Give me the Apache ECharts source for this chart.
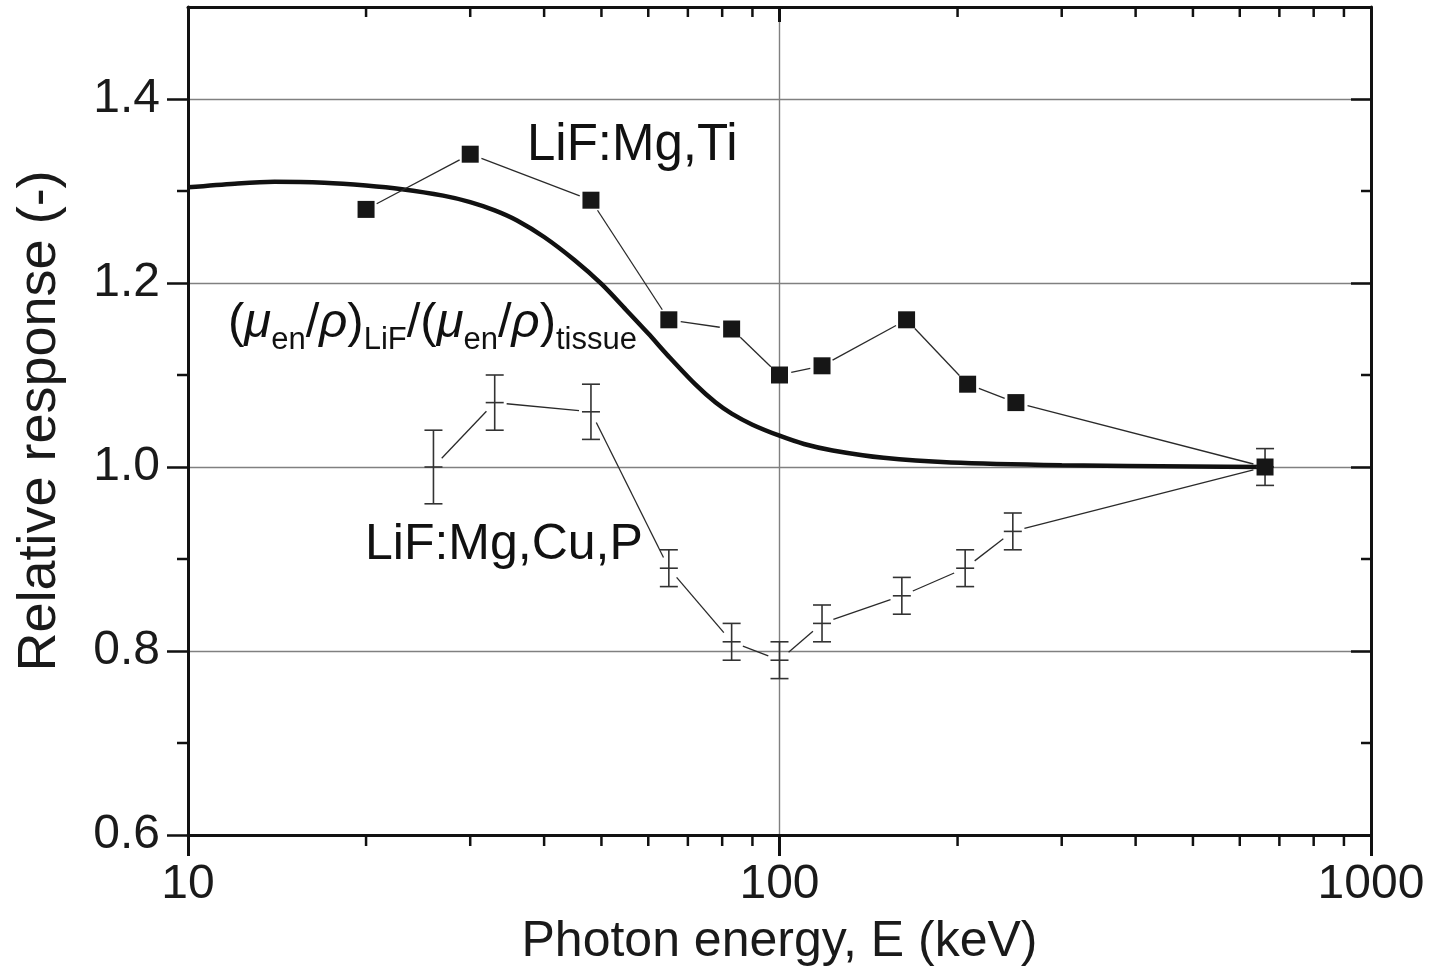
<!DOCTYPE html>
<html>
<head>
<meta charset="utf-8">
<title>Relative response vs photon energy</title>
<script src="https://cdn.jsdelivr.net/npm/echarts@6.0.0/dist/echarts.min.js"></script>
<style>
    html, body { margin: 0; padding: 0; background: #fff; }
    #mychart { width: 1435px; height: 978px; }
</style>
</head>
<body>
<div id="mychart"></div>
<script>
"use strict";
// LiF:Mg,Ti (filled squares)
const tiEnergy = [20, 30, 48, 65, 83, 100, 118, 164, 208, 251, 662];
const tiResponse = [1.28, 1.34, 1.29, 1.16, 1.15, 1.10, 1.11, 1.16, 1.09, 1.07, 1.00];
// LiF:Mg,Cu,P (error bars)
const cuEnergy = [26, 33, 48, 65, 83, 100, 118, 161, 206, 248, 662];
const cuResponse = [1.00, 1.07, 1.06, 0.89, 0.81, 0.79, 0.83, 0.86, 0.89, 0.93, 1.00];
const cuError = [0.04, 0.03, 0.03, 0.02, 0.02, 0.02, 0.02, 0.02, 0.02, 0.02, 0.02];
// (mu_en/rho)LiF / (mu_en/rho)tissue
const ratioEnergy = [10, 12, 14, 17, 20, 23, 27, 30, 33, 36, 40, 45, 50, 55, 60, 65, 72, 78, 83, 90, 100, 110, 123, 150, 195, 300, 500, 662];
const ratioValue = [1.304, 1.308, 1.310, 1.309, 1.306, 1.302, 1.295, 1.288, 1.279, 1.268, 1.250, 1.225, 1.199, 1.171, 1.145, 1.120, 1.090, 1.070, 1.058, 1.046, 1.034, 1.025, 1.018, 1.010, 1.005, 1.002, 1.0005, 1.000];
// axes
const xMin = 10, xMax = 1000;
const yMin = 0.6, yMax = 1.5;
const minorTickE = [20, 30, 40, 50, 60, 70, 80, 90, 200, 300, 400, 500, 600, 700, 800, 900];
const minorTickY = [0.7, 0.9, 1.1, 1.3];

const FONT = '"Liberation Sans", Arial, Helvetica, sans-serif';
const INK = '#111';

const container = document.getElementById('mychart');
const myChart = echarts.init(container);

function toSegments(xs, ys) {
    let segs = [];
    for (let i = 0; i < xs.length - 1; i++) {
        segs.push([xs[i], ys[i], xs[i + 1], ys[i + 1]]);
    }
    return segs;
}

// thin connecting line, stopped short of each marker
function renderSegment(params, api) {
    const p1 = api.coord([api.value(0), api.value(1)]);
    const p2 = api.coord([api.value(2), api.value(3)]);
    const dx = p2[0] - p1[0], dy = p2[1] - p1[1];
    const len = Math.sqrt(dx * dx + dy * dy);
    const gap = 12;
    if (len <= gap * 2) {
        return null;
    }
    const ux = dx / len, uy = dy / len;
    return {
        type: 'line',
        shape: {
            x1: p1[0] + ux * gap, y1: p1[1] + uy * gap,
            x2: p2[0] - ux * gap, y2: p2[1] - uy * gap
        },
        style: { stroke: '#2a2a2a', lineWidth: 1.3 }
    };
}

function renderErrorBar(params, api) {
    const x = api.value(0), y = api.value(1), e = api.value(2);
    const c = api.coord([x, y]);
    const hi = api.coord([x, y + e]);
    const lo = api.coord([x, y - e]);
    const w = 9;
    const style = { stroke: '#333', lineWidth: 1.6 };
    return {
        type: 'group',
        children: [
            { type: 'line', shape: { x1: c[0], y1: hi[1], x2: c[0], y2: lo[1] }, style },
            { type: 'line', shape: { x1: c[0] - w, y1: hi[1], x2: c[0] + w, y2: hi[1] }, style },
            { type: 'line', shape: { x1: c[0] - w, y1: lo[1], x2: c[0] + w, y2: lo[1] }, style },
            { type: 'line', shape: { x1: c[0] - w, y1: c[1], x2: c[0] + w, y2: c[1] }, style }
        ]
    };
}

// minor ticks: outward on bottom/left, inward on top/right
function renderMinorX(params, api) {
    const b = api.coord([api.value(0), yMin]);
    const t = api.coord([api.value(0), yMax]);
    const style = { stroke: INK, lineWidth: 2.5 };
    return {
        type: 'group',
        children: [
            { type: 'line', shape: { x1: b[0], y1: b[1], x2: b[0], y2: b[1] + 11 }, style },
            { type: 'line', shape: { x1: t[0], y1: t[1], x2: t[0], y2: t[1] + 10 }, style }
        ]
    };
}

function renderMinorY(params, api) {
    const l = api.coord([xMin, api.value(1)]);
    const r = api.coord([xMax, api.value(1)]);
    const style = { stroke: INK, lineWidth: 2.5 };
    return {
        type: 'group',
        children: [
            { type: 'line', shape: { x1: l[0], y1: l[1], x2: l[0] - 11, y2: l[1] }, style },
            { type: 'line', shape: { x1: r[0], y1: r[1], x2: r[0] - 10, y2: r[1] }, style }
        ]
    };
}

const labelText = { fontFamily: FONT, fontSize: 48, color: '#1a1a1a' };
const ratioRich = {
    p: { fontFamily: FONT, fontSize: 49, lineHeight: 64, verticalAlign: 'middle', fill: INK },
    g: { fontFamily: FONT, fontSize: 49, lineHeight: 64, verticalAlign: 'middle', fontStyle: 'italic', fill: INK },
    s: { fontFamily: FONT, fontSize: 31, lineHeight: 30, verticalAlign: 'bottom', fill: INK }
};

const option = {
    animation: false,
    backgroundColor: '#fff',
    grid: { left: 188, right: 64, top: 7, bottom: 143 },
    xAxis: [
        {
            type: 'log',
            logBase: 10,
            min: xMin,
            max: xMax,
            position: 'bottom',
            name: 'Photon energy, E (keV)',
            nameLocation: 'middle',
            nameGap: 82,
            nameTextStyle: { fontFamily: FONT, fontSize: 50, color: '#1a1a1a' },
            axisLine: { lineStyle: { color: INK, width: 3 } },
            axisTick: { inside: false, length: 21, lineStyle: { color: INK, width: 3 } },
            axisLabel: Object.assign({ margin: 26, formatter: v => String(Math.round(v)) }, labelText),
            splitLine: { show: true, lineStyle: { color: '#808080', width: 1.4 } },
            minorTick: { show: false },
            minorSplitLine: { show: false }
        },
        {
            type: 'log',
            logBase: 10,
            min: xMin,
            max: xMax,
            position: 'top',
            axisLine: { lineStyle: { color: INK, width: 3 } },
            axisTick: { inside: true, length: 15, lineStyle: { color: INK, width: 3 } },
            axisLabel: { show: false },
            splitLine: { show: false }
        }
    ],
    yAxis: [
        {
            type: 'value',
            min: yMin,
            max: yMax,
            interval: 0.2,
            position: 'left',
            name: 'Relative response (-)',
            nameLocation: 'middle',
            nameGap: 121,
            nameRotate: 90,
            nameTextStyle: { fontFamily: FONT, fontSize: 54, color: '#1a1a1a' },
            axisLine: { show: true, lineStyle: { color: INK, width: 3 } },
            axisTick: { show: true, inside: false, length: 21, lineStyle: { color: INK, width: 2.5 } },
            axisLabel: Object.assign({ margin: 28, showMaxLabel: false, formatter: v => v.toFixed(1) }, labelText),
            splitLine: { show: true, lineStyle: { color: '#808080', width: 1.4 } }
        },
        {
            type: 'value',
            min: yMin,
            max: yMax,
            interval: 0.2,
            position: 'right',
            axisLine: { show: true, lineStyle: { color: INK, width: 3 } },
            axisTick: { show: true, inside: true, length: 20, lineStyle: { color: INK, width: 2.5 } },
            axisLabel: { show: false },
            splitLine: { show: false }
        }
    ],
    series: [
        {
            name: 'minorX',
            type: 'custom',
            renderItem: renderMinorX,
            data: minorTickE.map(e => [e, yMin]),
            encode: { x: 0, y: 1 },
            clip: false,
            silent: true,
            z: 1
        },
        {
            name: 'minorY',
            type: 'custom',
            renderItem: renderMinorY,
            data: minorTickY.map(v => [xMin, v]),
            encode: { x: 0, y: 1 },
            clip: false,
            silent: true,
            z: 1
        },
        {
            name: 'ratio',
            type: 'line',
            data: ratioEnergy.map((e, i) => [e, ratioValue[i]]),
            smooth: 0.3,
            symbol: 'none',
            lineStyle: { color: INK, width: 4.5 },
            z: 3
        },
        {
            name: 'LiF:Mg,Cu,P line',
            type: 'custom',
            renderItem: renderSegment,
            data: toSegments(cuEnergy, cuResponse),
            encode: { x: [0, 2], y: [1, 3] },
            z: 4
        },
        {
            name: 'LiF:Mg,Cu,P',
            type: 'custom',
            renderItem: renderErrorBar,
            data: cuEnergy.map((e, i) => [e, cuResponse[i], cuError[i]]),
            encode: { x: 0, y: 1 },
            z: 5
        },
        {
            name: 'LiF:Mg,Ti line',
            type: 'custom',
            renderItem: renderSegment,
            data: toSegments(tiEnergy, tiResponse),
            encode: { x: [0, 2], y: [1, 3] },
            z: 4
        },
        {
            name: 'LiF:Mg,Ti',
            type: 'scatter',
            data: tiEnergy.map((e, i) => [e, tiResponse[i]]),
            symbol: 'rect',
            symbolSize: 17,
            itemStyle: { color: '#161616', opacity: 1 },
            z: 6
        }
    ],
    graphic: [
        {
            type: 'text',
            left: 527,
            top: 120,
            style: { text: 'LiF:Mg,Ti', font: '51px ' + FONT, fill: INK }
        },
        {
            type: 'text',
            left: 365,
            top: 520,
            style: { text: 'LiF:Mg,Cu,P', font: '50px ' + FONT, fill: INK }
        },
        {
            type: 'text',
            left: 228,
            top: 299,
            style: {
                text: '{p|(}{g|μ}{s|en}{p|/}{g|ρ}{p|)}{s|LiF}{p|/(}{g|μ}{s|en}{p|/}{g|ρ}{p|)}{s|tissue}',
                rich: ratioRich
            }
        }
    ]
};

myChart.setOption(option);
</script>
</body>
</html>
